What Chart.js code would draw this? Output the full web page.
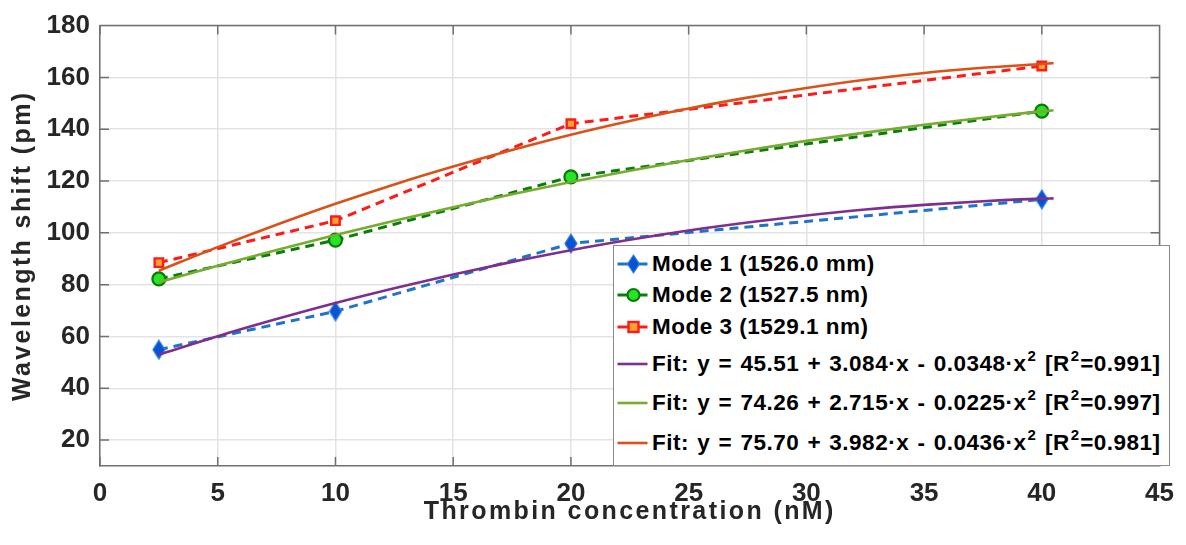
<!DOCTYPE html>
<html>
<head>
<meta charset="utf-8">
<script src="https://cdn.jsdelivr.net/npm/chart.js@4.4.1/dist/chart.umd.min.js"></script>
<style>
  html, body { margin: 0; padding: 0; background: #fff; }
  #wrap { position: relative; width: 1186px; height: 545px; overflow: hidden; }
  #chart { position: absolute; left: 0; top: 0; }
  #legend {
    position: absolute; left: 613px; top: 245px; width: 557px; height: 221px;
    box-sizing: border-box; border: 1.5px solid #8a8a8a; background: #fff;
    font-family: 'Liberation Sans', Arial, Helvetica, sans-serif; font-weight: bold;
    font-size: 22.5px; letter-spacing: 0.5px; color: #000;
  }
  .row { position: absolute; left: 0; width: 100%; height: 30px; line-height: 30px; white-space: nowrap; }
  .row svg { position: absolute; left: 0; top: 0; }
  .row .txt { position: absolute; left: 38px; top: 0; }
  .row.fit .txt { word-spacing: 1.5px; }
  .row sup { font-size: 15px; line-height: 0; position: relative; top: -10px; vertical-align: baseline; letter-spacing: 0; margin-left: 1px; margin-right: 1px; }
</style>
</head>
<body>
<div id="wrap">
  <canvas id="chart" width="1186" height="545"></canvas>
  <div id="legend"></div>
</div>
<script>
// ---------- data ----------
const concentrations = [2.5, 10, 20, 40];
const mode1Shift = [54.9, 69.7, 95.9, 112.9];
const mode2Shift = [82.2, 97.2, 121.6, 147.0];
const mode3Shift = [88.5, 104.7, 142.1, 164.4];

// fit curves
const fitX = [2.5, 5, 7.5, 10, 12.5, 15, 17.5, 20, 22.5, 25, 27.5, 30, 32.5, 35, 37.5, 40, 40.5];
const fit1Shift = [53.0, 60.1, 66.7, 72.9, 78.6, 83.9, 88.8, 93.3, 97.3, 100.9, 104.0, 106.7, 109.0, 110.8, 112.2, 113.2, 113.3];
const fit2Shift = [80.9, 87.3, 93.4, 99.2, 104.7, 109.9, 114.9, 119.6, 124.0, 128.1, 131.9, 135.5, 138.7, 141.7, 144.4, 146.9, 147.3];
const fit3Shift = [85.4, 94.5, 103.1, 111.2, 118.7, 125.6, 132.0, 137.9, 143.2, 148.0, 152.2, 155.9, 159.1, 161.7, 163.7, 165.2, 165.5];

const xTickValues = [0, 5, 10, 15, 20, 25, 30, 35, 40, 45];
const yTickValues = [20, 40, 60, 80, 100, 120, 140, 160, 180];

const seriesLabels = ['Mode 1 (1526.0 mm)', 'Mode 2 (1527.5 nm)', 'Mode 3 (1529.1 nm)'];
const fitLabels = [
  ['45.51', '3.084', '0.0348', '0.991'],
  ['74.26', '2.715', '0.0225', '0.997'],
  ['75.70', '3.982', '0.0436', '0.981']
];
const xTitle = 'Thrombin concentration (nM)';
const yTitle = 'Wavelength shift (pm)';

// ---------- styles ----------
const FONT = "'Liberation Sans', Arial, Helvetica, sans-serif";
const AXIS_COLOR = '#707070';
const TEXT_COLOR = '#262626';
const GRID_COLOR = '#e3e3e3';
const C = {
  m1Line: '#1f74c8', m1Fill: '#0a52d4', m1Edge: '#2c84dc',
  m2Line: '#0b7d0b', m2Fill: '#26e426', m2Edge: '#0b7a0b',
  m3Line: '#ff1a1a', m3Fill: '#f3a530', m3Edge: '#ff1a1a',
  f1: '#7e2f8e', f2: '#77ac30', f3: '#d95319'
};

function makeDiamond(w, h, fill, edge) {
  const c = document.createElement('canvas');
  c.width = w + 2; c.height = h + 2;
  const g = c.getContext('2d');
  g.beginPath();
  g.moveTo(c.width / 2, 1);
  g.lineTo(c.width - 1, c.height / 2);
  g.lineTo(c.width / 2, c.height - 1);
  g.lineTo(1, c.height / 2);
  g.closePath();
  g.fillStyle = fill; g.fill();
  g.strokeStyle = edge; g.lineWidth = 1.2; g.stroke();
  return c;
}
const diamond = makeDiamond(12, 19, C.m1Fill, C.m1Edge);

function pts(xs, ys) { return xs.map((x, i) => ({ x: x, y: ys[i] })); }

const dash = [9, 6];
const datasets = [
  { label: seriesLabels[0], data: pts(concentrations, mode1Shift), showLine: true,
    borderColor: C.m1Line, borderWidth: 3, borderDash: dash, pointStyle: diamond,
    pointRadius: 9, backgroundColor: C.m1Fill, order: 2 },
  { label: seriesLabels[1], data: pts(concentrations, mode2Shift), showLine: true,
    borderColor: C.m2Line, borderWidth: 3, borderDash: dash, pointStyle: 'circle',
    pointRadius: 6.5, pointBorderWidth: 2.2, pointBackgroundColor: C.m2Fill,
    pointBorderColor: C.m2Edge, backgroundColor: C.m2Fill, order: 2 },
  { label: seriesLabels[2], data: pts(concentrations, mode3Shift), showLine: true,
    borderColor: C.m3Line, borderWidth: 3, borderDash: dash, pointStyle: 'rect',
    pointRadius: 6, pointBorderWidth: 2.4, pointBackgroundColor: C.m3Fill,
    pointBorderColor: C.m3Edge, backgroundColor: C.m3Fill, order: 2 },
  { label: 'Fit 1', data: pts(fitX, fit1Shift), showLine: true, borderColor: C.f1,
    borderWidth: 2.6, pointRadius: 0, cubicInterpolationMode: 'monotone', order: 1 },
  { label: 'Fit 2', data: pts(fitX, fit2Shift), showLine: true, borderColor: C.f2,
    borderWidth: 2.6, pointRadius: 0, cubicInterpolationMode: 'monotone', order: 1 },
  { label: 'Fit 3', data: pts(fitX, fit3Shift), showLine: true, borderColor: C.f3,
    borderWidth: 2.6, pointRadius: 0, cubicInterpolationMode: 'monotone', order: 1 }
];

// spaced axis titles
const titleSpacing = {
  id: 'titleSpacing',
  afterLayout(chart) {
    ['x', 'y'].forEach(id => {
      const s = chart.scales[id];
      if (!s || s._spaced) return;
      const orig = s.drawTitle;
      s.drawTitle = function () {
        const c = this.ctx; c.save();
        try { c.letterSpacing = '2.4px'; } catch (e) {}
        orig.apply(this, arguments);
        c.restore();
      };
      s._spaced = true;
    });
  }
};

// box + inward ticks (MATLAB style)
const boxTicks = {
  id: 'boxTicks',
  afterDraw(chart) {
    const { ctx, chartArea: a, scales: { x, y } } = chart;
    ctx.save();
    ctx.strokeStyle = AXIS_COLOR; ctx.lineWidth = 1.5;
    ctx.beginPath();
    x.ticks.forEach(t => {
      const px = x.getPixelForValue(t.value);
      ctx.moveTo(px, a.bottom); ctx.lineTo(px, a.bottom - 9);
      ctx.moveTo(px, a.top); ctx.lineTo(px, a.top + 9);
    });
    y.ticks.forEach(t => {
      const py = y.getPixelForValue(t.value);
      ctx.moveTo(a.left, py); ctx.lineTo(a.left + 9, py);
      ctx.moveTo(a.right, py); ctx.lineTo(a.right - 9, py);
    });
    ctx.moveTo(a.left, a.top); ctx.lineTo(a.right, a.top); ctx.lineTo(a.right, a.bottom);
    ctx.stroke();
    ctx.restore();
  }
};

const tickFont = { family: FONT, size: 26, weight: 'bold' };
const titleFont = { family: FONT, size: 25, weight: 'bold' };

new Chart(document.getElementById('chart'), {
  type: 'scatter',
  data: { datasets: datasets },
  plugins: [titleSpacing, boxTicks],
  options: {
    responsive: false,
    animation: false,
    devicePixelRatio: 1,
    layout: { padding: { left: 0, right: 16, top: 20, bottom: 0 } },
    plugins: { legend: { display: false }, tooltip: { enabled: false } },
    scales: {
      x: {
        type: 'linear', min: 0, max: 45,
        afterBuildTicks: s => { s.ticks = xTickValues.map(v => ({ value: v })); },
        afterFit: s => { s.height = 79; },
        ticks: { font: tickFont, color: TEXT_COLOR, padding: 12, maxRotation: 0, autoSkip: false },
        grid: { color: GRID_COLOR, lineWidth: 1.5, drawTicks: false },
        border: { display: true, color: AXIS_COLOR, width: 1.5 },
        title: { display: true, text: xTitle, font: titleFont, color: TEXT_COLOR, padding: { top: 0, bottom: 18 } }
      },
      y: {
        type: 'linear', min: 10, max: 180,
        afterBuildTicks: s => { s.ticks = yTickValues.map(v => ({ value: v })); },
        afterFit: s => { s.width = 100; },
        ticks: { font: tickFont, color: TEXT_COLOR, padding: 10, autoSkip: false },
        grid: { color: GRID_COLOR, lineWidth: 1.5, drawTicks: false },
        border: { display: true, color: AXIS_COLOR, width: 1.5 },
        title: { display: true, text: yTitle, font: titleFont, color: TEXT_COLOR, padding: { top: 8, bottom: 0 } }
      }
    }
  }
});

// ---------- legend (HTML overlay) ----------
const legend = document.getElementById('legend');
const rowCenters = [19, 50.5, 82, 119, 158.5, 198];
function sampleSvg(kind, i) {
  const w = 36, h = 30, cy = 15, mx = 19.5;
  let s = `<svg width="${w}" height="${h}" xmlns="http://www.w3.org/2000/svg">`;
  if (kind === 'mode') {
    const lc = [C.m1Line, C.m2Line, C.m3Line][i];
    s += `<line x1="3.5" y1="${cy}" x2="33.5" y2="${cy}" stroke="${lc}" stroke-width="3"/>`;
    if (i === 0) s += `<polygon points="${mx},${cy - 9} ${mx + 6},${cy} ${mx},${cy + 9} ${mx - 6},${cy}" fill="${C.m1Fill}" stroke="${C.m1Edge}" stroke-width="1.2"/>`;
    if (i === 1) s += `<circle cx="${mx}" cy="${cy}" r="6" fill="${C.m2Fill}" stroke="${C.m2Edge}" stroke-width="2.2"/>`;
    if (i === 2) s += `<rect x="${mx - 5}" y="${cy - 5}" width="10" height="10" fill="${C.m3Fill}" stroke="${C.m3Edge}" stroke-width="2.4"/>`;
  } else {
    const lc = [C.f1, C.f2, C.f3][i];
    s += `<line x1="3.5" y1="${cy}" x2="33.5" y2="${cy}" stroke="${lc}" stroke-width="2.6"/>`;
  }
  return s + '</svg>';
}
function addRow(idx, svg, html, cls) {
  const r = document.createElement('div');
  r.className = 'row ' + cls;
  r.style.top = (rowCenters[idx] - 15 - 1.5) + 'px';
  r.innerHTML = svg + `<span class="txt">${html}</span>`;
  legend.appendChild(r);
}
seriesLabels.forEach((t, i) => addRow(i, sampleSvg('mode', i), t, 'mode'));
fitLabels.forEach((f, i) => {
  const html = `Fit: y = ${f[0]} + ${f[1]}\u00b7x - ${f[2]}\u00b7x<sup>2</sup> [R<sup>2</sup>=${f[3]}]`;
  addRow(3 + i, sampleSvg('fit', i), html, 'fit');
});
</script>
</body>
</html>
